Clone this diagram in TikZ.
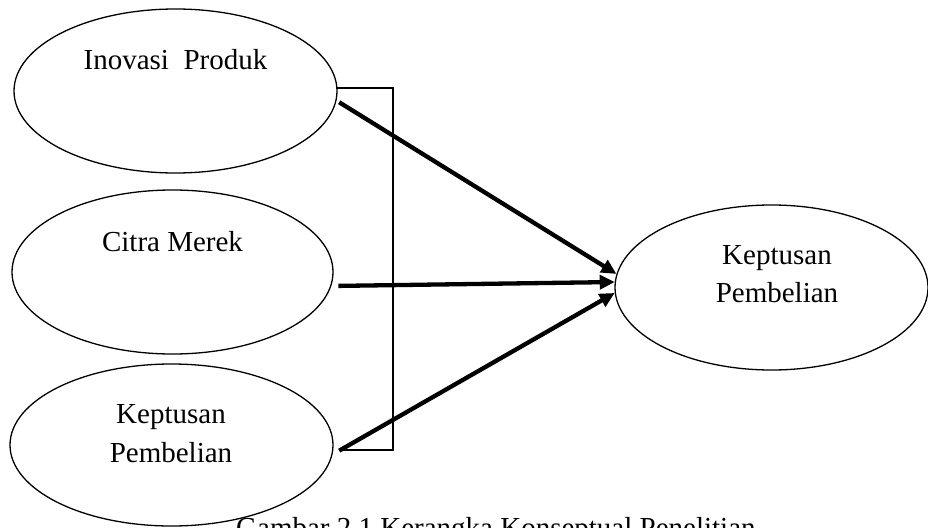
\documentclass[tikz,border=0pt]{standalone}
\usepackage{fontspec}
\setmainfont{Liberation Serif}
\usetikzlibrary{shapes.geometric,arrows.meta,calc}
\begin{document}
\begin{tikzpicture}[x=1pt,y=-1pt,
  oval/.style={draw,ellipse,line width=1.3pt,inner sep=0pt},
  txt/.style={anchor=base,inner sep=0pt,font=\fontsize{29}{39}\selectfont},
  thickarrow/.style={line width=4.3pt,-{Triangle[length=15pt,width=14pt]}},
  bracket/.style={line width=1.3pt}]
\useasboundingbox (0,0) rectangle (928,527);
\node[oval,minimum width=323pt,minimum height=164pt] (a) at (175.5,91) {};
\node[oval,minimum width=321pt,minimum height=164pt] (b) at (172.5,272) {};
\node[oval,minimum width=323pt,minimum height=162pt] (c) at (171.5,445) {};
\node[oval,minimum width=313pt,minimum height=165pt] (k) at (771.5,287.5) {};
\node[txt] (ta) at (175.5,69) {Inovasi\ \ Produk};
\node[txt] (tb) at (172.5,251) {Citra Merek};
\node[txt] (tc1) at (171,423) {Keptusan};
\node[txt] (tc2) at (171,462) {Pembelian};
\node[txt] (tk1) at (777,264) {Keptusan};
\node[txt] (tk2) at (777,302) {Pembelian};
\node[txt,anchor=base west] (cap) at (236,537) {Gambar 2.1 Kerangka Konseptual Penelitian};
\coordinate (bt) at (393,88);
\coordinate (bb) at (393,450);
\draw[bracket] (a.east |- bt) ++(-1,0) -- (bt) -- (bb) -- ($(c.east |- bb)+(5,0)$);
\draw[thickarrow] ($(a.-4)+(3,0)$) -- (k.175);
\draw[thickarrow] ($(b.-5)+(7,0)$) -- (k.178.5);
\draw[thickarrow] ($(c.-2)+(6,0)$) -- (k.182);
\end{tikzpicture}
\end{document}
